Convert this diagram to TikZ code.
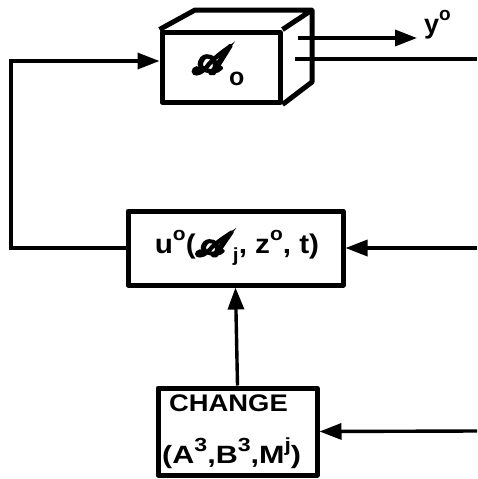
\documentclass[tikz,border=0pt]{standalone}
\usepackage{fontspec}
\setmainfont{Liberation Sans}
\setsansfont{Liberation Sans}
\usepackage{amsmath}
\usepackage{mathrsfs}
\usetikzlibrary{arrows.meta}
\newcommand\raiseo[1]{\raisebox{0.45em}{\fontsize{19}{19}\selectfont #1}}
\newcommand\scrA[2]{\resizebox{!}{#1}{\special{pdf:literal direct 2 Tr #2 w}$\mathscr{A}$\special{pdf:literal direct 0 Tr}}}
\begin{document}
\begin{tikzpicture}[x=1pt,y=-1pt,
  box/.style={draw,line width=5pt,inner sep=0pt,line join=round},
  txt/.style={inner sep=0pt,font=\fontsize{27}{27}\selectfont\bfseries},
  conn/.style={line width=3.4pt},
  arr/.style={conn,-{Triangle[length=22pt,width=16pt]}}]
\useasboundingbox (0,0) rectangle (477,479);
% cuboid
\node[box,minimum width=118pt,minimum height=70pt] (front) at (221,67) {};
\coordinate (btl) at (195,10);
\coordinate (btr) at (312,10);
\coordinate (bbr) at (312,82);
\draw[line width=5pt,line join=round] (front.north west) -- (btl) -- (btr) -- (front.north east);
\draw[line width=5pt,line join=round] (btr) -- (bbr) -- (front.south east);
\node[inner sep=0pt] (sym) at (212,60) {\scrA{27pt}{0.9}};
\node[txt,anchor=base west,font=\fontsize{25}{25}\selectfont\bfseries] (symsub) at (229,85) {o};
% middle box
\node[box,minimum width=215pt,minimum height=74pt] (mid) at (235.5,248) {};
\node[txt,anchor=base] (midtxt) at (237,253) {\scalebox{1.1}[1]{u\raiseo{o}(\raisebox{-0.1em}{\scrA{23pt}{2.4}}\raisebox{-0.3em}{\fontsize{19}{19}\selectfont j}, z\raiseo{o}, t)}};
% bottom box
\node[box,minimum width=159pt,minimum height=87pt] (chg) at (237.5,431.5) {};
\node[txt,anchor=base west,font=\fontsize{24}{24}\selectfont\bfseries] (chg1) at (169,411) {\scalebox{1.14}[1]{CHANGE}};
\node[txt,anchor=base west,font=\fontsize{25}{25}\selectfont\bfseries] (chg2) at (162,463) {\scalebox{1.22}[1]{(A\raiseo{3},B\raiseo{3},M\raiseo{j})}};
% output y
\coordinate (ystart) at (298,38);
\coordinate (yend) at (417,38);
\draw[arr] (ystart) -- (yend);
\node[txt,anchor=base west] (ylab) at (424,33) {y\raiseo{o}};
% line to right edge
\coordinate (ostart) at (295,59);
\coordinate (r0) at (477,59);
\draw[conn] (ostart) -- (r0);
% inputs from right
\coordinate (r1) at (477,248);
\coordinate (r2) at (477,431);
\draw[arr] (r1) -- (mid.east);
\draw[arr] (r2) -- (chg.east);
% change to middle
\draw[arr] (chg.north) -- (mid.south);
% feedback loop left
\coordinate (lb) at (11,248);
\coordinate (lt) at (11,61);
\draw[arr,line join=miter] (mid.west) -- (lb) -- (lt) -- ([yshift=6pt]front.west);
\end{tikzpicture}
\end{document}
